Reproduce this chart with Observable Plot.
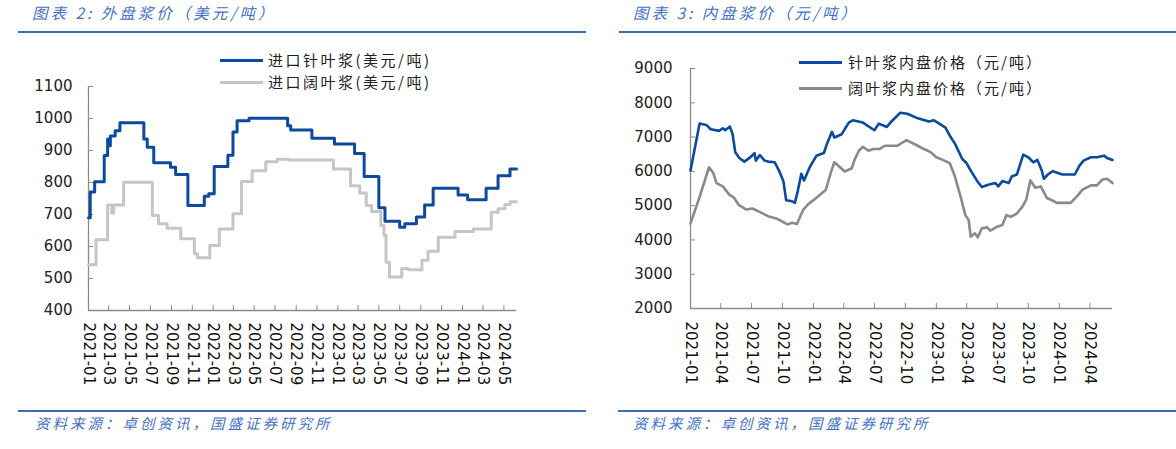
<!DOCTYPE html>
<html><head><meta charset="utf-8">
<script src="https://cdn.jsdelivr.net/npm/d3@7"></script>
<script src="https://cdn.jsdelivr.net/npm/@observablehq/plot@0.6"></script>
<style>
html,body{margin:0;padding:0;background:#fff;}
#wrap{position:relative;width:1176px;height:449px;overflow:hidden;background:#fff;}
.abs{position:absolute;}
.title{font-family:"Noto Sans CJK SC","Noto Sans",sans-serif;font-style:italic;color:#4472C4;font-size:15px;white-space:nowrap;line-height:1;letter-spacing:3px;}
.rule{background:#3E6DB5;height:2px;}
.leg{font-family:"Noto Sans CJK SC",sans-serif;font-size:15px;color:#222;white-space:nowrap;line-height:1;}
.legline{height:3px;}
svg{overflow:visible;}
</style>
</head><body>
<div id="wrap"></div>
<script>
// ---------- DATA ----------
const leftTitle = "图表 2:  外盘浆价（美元/吨）";
const rightTitle = "图表 3:  内盘浆价（元/吨）";
const sourceText = "资料来源：卓创资讯，国盛证券研究所";
const leftSeriesNames = ["进口针叶浆(美元/吨)", "进口阔叶浆(美元/吨)"];
const rightSeriesNames = ["针叶浆内盘价格（元/吨）", "阔叶浆内盘价格（元/吨）"];

const leftYTicks = [400, 500, 600, 700, 800, 900, 1000, 1100];
const rightYTicks = [2000, 3000, 4000, 5000, 6000, 7000, 8000, 9000];
const leftXTicks = ["2021-01","2021-03","2021-05","2021-07","2021-09","2021-11","2022-01","2022-03","2022-05","2022-07","2022-09","2022-11","2023-01","2023-03","2023-05","2023-07","2023-09","2023-11","2024-01","2024-03","2024-05"];
const rightXTicks = ["2021-01","2021-04","2021-07","2021-10","2022-01","2022-04","2022-07","2022-10","2023-01","2023-04","2023-07","2023-10","2024-01","2024-04"];

// 进口针叶浆 (USD/t), step changes
const usdSoftDates = ["2021-01-01","2021-01-06","2021-01-19","2021-02-16","2021-02-26","2021-03-03","2021-03-06","2021-03-20","2021-04-03","2021-06-12","2021-06-22","2021-07-11","2021-08-29","2021-09-13","2021-10-19","2021-12-06","2021-12-19","2022-01-04","2022-02-13","2022-02-28","2022-03-12","2022-04-16","2022-08-07","2022-08-16","2022-10-17","2022-12-22","2023-02-19","2023-03-19","2023-05-01","2023-05-19","2023-07-01","2023-07-16","2023-08-19","2023-09-12","2023-10-07","2023-12-19","2024-01-16","2024-03-10","2024-04-14","2024-05-19","2024-06-07"];
const usdSoftValues = [690,770,802,884,936,915,945,962,987,936,910,862,848,825,728,757,765,850,885,958,993,1001,977,964,938,920,891,819,721,679,660,671,692,730,782,761,746,782,821,842,842];

// 进口阔叶浆 (USD/t), step changes
const usdHardDates = ["2021-01-01","2021-01-23","2021-02-26","2021-03-10","2021-03-16","2021-04-14","2021-07-07","2021-07-25","2021-08-19","2021-09-28","2021-11-07","2021-11-16","2021-12-22","2022-01-19","2022-02-28","2022-03-25","2022-04-25","2022-06-04","2022-07-07","2022-08-10","2022-12-19","2023-02-07","2023-03-06","2023-03-25","2023-04-10","2023-05-07","2023-05-16","2023-05-22","2023-06-01","2023-07-07","2023-07-25","2023-09-04","2023-09-22","2023-10-22","2023-12-10","2024-02-02","2024-03-25","2024-04-14","2024-05-04","2024-05-19","2024-06-07"];
const usdHardValues = [543,621,730,705,730,801,697,671,657,624,577,565,603,655,702,803,837,865,873,870,842,790,767,728,709,666,635,551,505,531,527,557,585,629,647,655,707,718,731,740,740];

// 针叶浆内盘价格 (CNY/t)
const cnySoftDates = ["2021-01-01","2021-01-28","2021-02-17","2021-03-02","2021-03-27","2021-04-07","2021-04-14","2021-04-28","2021-05-06","2021-05-14","2021-05-26","2021-06-10","2021-06-30","2021-07-10","2021-07-14","2021-07-26","2021-08-09","2021-08-19","2021-09-08","2021-09-23","2021-10-04","2021-10-12","2021-10-30","2021-11-07","2021-11-16","2021-11-26","2021-12-04","2021-12-21","2022-01-10","2022-02-01","2022-02-10","2022-02-25","2022-03-04","2022-03-26","2022-04-16","2022-04-28","2022-05-28","2022-07-01","2022-07-14","2022-08-07","2022-08-22","2022-09-16","2022-10-07","2022-11-07","2022-11-25","2022-12-10","2022-12-25","2023-01-13","2023-01-28","2023-02-12","2023-02-26","2023-03-19","2023-04-01","2023-04-13","2023-05-01","2023-05-16","2023-06-04","2023-06-25","2023-07-04","2023-07-16","2023-08-04","2023-08-13","2023-08-28","2023-09-16","2023-10-01","2023-10-16","2023-10-28","2023-11-10","2023-11-16","2023-11-28","2023-12-13","2024-01-10","2024-02-16","2024-03-01","2024-03-13","2024-04-04","2024-04-22","2024-05-13","2024-05-22","2024-06-07"];
const cnySoftValues = [6024,7393,7354,7229,7181,7258,7200,7306,7084,6554,6390,6284,6429,6535,6313,6477,6313,6284,6265,5976,5706,5157,5128,5080,5446,5928,5735,6120,6458,6535,6795,7152,6988,7084,7422,7489,7422,7200,7393,7296,7470,7711,7682,7547,7499,7451,7489,7373,7277,7007,6795,6361,6236,6024,5735,5542,5610,5658,5561,5716,5658,5851,5908,6487,6410,6265,6333,6024,5783,5908,6005,5908,5908,6168,6313,6410,6410,6458,6390,6333];

// 阔叶浆内盘价格 (CNY/t)
const cnyHardDates = ["2021-01-01","2021-01-28","2021-02-25","2021-03-10","2021-03-19","2021-04-07","2021-04-26","2021-05-10","2021-05-25","2021-06-16","2021-07-04","2021-07-25","2021-08-19","2021-09-13","2021-10-07","2021-10-16","2021-10-30","2021-11-13","2021-12-01","2021-12-16","2022-01-07","2022-01-19","2022-02-07","2022-02-22","2022-03-04","2022-04-04","2022-04-25","2022-05-04","2022-05-16","2022-05-28","2022-06-13","2022-06-28","2022-07-16","2022-08-01","2022-09-07","2022-10-04","2022-11-01","2022-11-25","2022-12-16","2023-01-01","2023-01-25","2023-02-10","2023-02-24","2023-03-13","2023-03-28","2023-04-07","2023-04-13","2023-04-25","2023-05-04","2023-05-16","2023-06-01","2023-06-10","2023-07-01","2023-07-16","2023-07-28","2023-08-10","2023-08-28","2023-09-13","2023-09-25","2023-10-07","2023-10-22","2023-11-07","2023-11-25","2023-12-10","2023-12-25","2024-02-04","2024-02-25","2024-03-10","2024-04-04","2024-04-22","2024-05-07","2024-05-22","2024-06-07"];
const cnyHardValues = [4482,5253,6120,5947,5658,5561,5320,5234,5012,4887,4916,4819,4694,4627,4501,4453,4501,4463,4867,5041,5205,5301,5465,5976,6265,5995,6092,6361,6602,6718,6602,6651,6651,6747,6747,6911,6776,6651,6554,6410,6313,6236,5880,5301,4723,4578,4096,4193,4077,4337,4366,4270,4386,4434,4723,4675,4771,4964,5176,5735,5523,5561,5224,5157,5080,5080,5301,5465,5590,5590,5754,5783,5658];

// ---------- STYLE ----------
const BLUE = "#0B4A9F";
const LIGHTGRAY = "#C6C6C6";
const DARKGRAY = "#8A8A8A";

const parse = d3.utcParse("%Y-%m-%d");
const parseM = d3.utcParse("%Y-%m");
const fmt = d3.utcFormat("%Y-%m");
const toRows = (dates, values) => dates.map((d, i) => ({date: parse(d), value: values[i]}));

const wrap = document.getElementById("wrap");
function addDiv(cls, css, text) {
  const el = document.createElement("div");
  el.className = "abs " + cls;
  el.style.cssText = css;
  if (text != null) el.textContent = text;
  wrap.appendChild(el);
  return el;
}

function makeChart({width, height, mLeft, mRight, mTop, mBottom, xDomain, xTicks, yDomain, yTicks, series, axisColor, curve, tickPad, yPad}) {
  const plotW = width - mLeft - mRight;
  const plotH = height - mTop - mBottom;
  return Plot.plot({
    width, height,
    marginLeft: mLeft, marginRight: mRight, marginTop: mTop, marginBottom: mBottom,
    x: {type: "utc", domain: xDomain},
    y: {domain: yDomain},
    style: {fontFamily: "DejaVu Sans, Verdana, sans-serif", fontSize: "15px", color: "#222", background: "transparent", overflow: "visible"},
    marks: [
      Plot.axisY({ticks: yTicks, tickSize: 0, tickPadding: yPad, tickFormat: d => String(d), label: null, fill: "#222"}),
      Plot.axisX({ticks: xTicks, tickSize: 0, tickPadding: tickPad, tickRotate: 90, tickFormat: fmt, label: null, fill: "#111"}),
      Plot.tickY(yTicks, {y: d => d, insetRight: plotW - 5, stroke: axisColor}),
      Plot.tickX(xTicks, {x: d => d, insetTop: plotH - 5, stroke: axisColor}),
      Plot.ruleX([xDomain[0]], {stroke: axisColor, strokeWidth: 1.3}),
      Plot.ruleY([yDomain[0]], {stroke: axisColor, strokeWidth: 1.3}),
      ...series.map(s => Plot.line(s.rows, {x: "date", y: "value", stroke: s.color, strokeWidth: s.width, curve}))
    ]
  });
}

// ----- left chart -----
const left = makeChart({
  width: 590, height: 400, mLeft: 88, mRight: 74, mTop: 86, mBottom: 90,
  xDomain: [parse("2021-01-01"), parse("2024-06-07")],
  xTicks: leftXTicks.map(parseM),
  yDomain: [400, 1100], yTicks: leftYTicks,
  series: [
    {rows: toRows(usdHardDates, usdHardValues), color: LIGHTGRAY, width: 3},
    {rows: toRows(usdSoftDates, usdSoftValues), color: BLUE, width: 3}
  ],
  axisColor: "#8C8C8C", curve: "step-after", tickPad: 12, yPad: 16
});
left.style.position = "absolute"; left.style.left = "0px"; left.style.top = "0px";
wrap.appendChild(left);

// ----- right chart -----
const right = makeChart({
  width: 586, height: 400, mLeft: 100, mRight: 64, mTop: 68, mBottom: 92,
  xDomain: [parse("2021-01-01"), parse("2024-06-07")],
  xTicks: rightXTicks.map(parseM),
  yDomain: [2000, 9000], yTicks: rightYTicks,
  series: [
    {rows: toRows(cnyHardDates, cnyHardValues), color: DARKGRAY, width: 2.6},
    {rows: toRows(cnySoftDates, cnySoftValues), color: BLUE, width: 2.6}
  ],
  axisColor: "#8C8C8C", curve: "linear", tickPad: 13, yPad: 18
});
right.style.position = "absolute"; right.style.left = "590px"; right.style.top = "0px";
wrap.appendChild(right);

// ----- titles, rules, legends, sources -----
addDiv("title", "left:32px;top:5px;font-size:15.5px;", leftTitle);
addDiv("title", "left:633px;top:5px;font-size:15.5px;", rightTitle);
addDiv("rule", "left:18px;top:31px;width:568px;");
addDiv("rule", "left:619px;top:31px;width:557px;");
addDiv("rule", "left:18px;top:410px;width:568px;");
addDiv("rule", "left:618px;top:410px;width:558px;");
addDiv("title", "left:35px;top:416px;font-size:14.5px;", sourceText);
addDiv("title", "left:633px;top:416px;font-size:14.5px;", sourceText);

addDiv("legline", `left:220px;top:59px;width:43px;background:${BLUE};`);
addDiv("legline", `left:220px;top:81px;width:43px;background:${LIGHTGRAY};`);
addDiv("leg", "left:268px;top:52px;letter-spacing:2.5px;", leftSeriesNames[0]);
addDiv("leg", "left:268px;top:74px;letter-spacing:2.5px;", leftSeriesNames[1]);

addDiv("legline", `left:799px;top:61px;width:43px;background:${BLUE};`);
addDiv("legline", `left:799px;top:87px;width:43px;background:${DARKGRAY};`);
addDiv("leg", "left:848px;top:54px;letter-spacing:2px;", rightSeriesNames[0]);
addDiv("leg", "left:848px;top:80px;letter-spacing:2px;", rightSeriesNames[1]);
</script>
</body></html>
